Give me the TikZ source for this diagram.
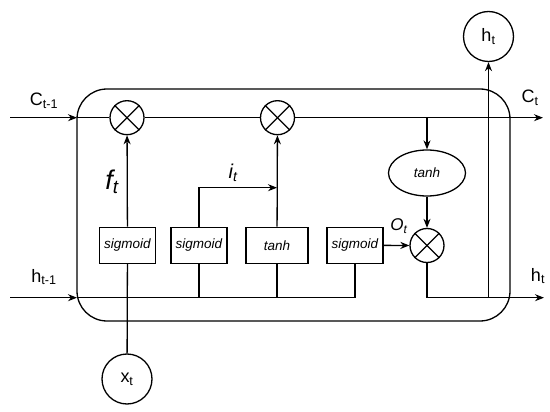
\documentclass[tikz,border=0pt]{standalone}
\usepackage{fontspec}
\setmainfont{Liberation Sans}
\usetikzlibrary{arrows.meta,shapes,positioning}

\tikzset{
  gatebox/.style={draw, minimum width=56pt, minimum height=36pt, inner sep=0pt, font=\fontsize{13.5}{13.5}\selectfont\itshape},
  mult/.style={draw, circle, minimum size=34pt, inner sep=0pt},
  iobox/.style={draw, circle, minimum size=50pt, inner sep=0pt, font=\fontsize{18}{18}\selectfont},
  lbl/.style={inner sep=0pt, font=\fontsize{18}{18}\selectfont},
}

\begin{document}
\begin{tikzpicture}[x=1pt, y=-1pt, line width=1.3pt, >={Stealth[length=9pt,width=7pt]}]
\useasboundingbox (0,0) rectangle (550,412);

% cell
\draw [rounded corners=30pt] (77,89) rectangle (510,321);

% gates
\node [gatebox] (sf) at (127.5,245.3) {sigmoid};
\node [gatebox] (si) at (199,245.3) {sigmoid};
\node [gatebox, minimum width=62pt] (tc) at (277,245.3) {tanh};
\node [gatebox] (so) at (355,245.3) {sigmoid};

\node [mult] (m1) at (127,117.7) {};
\node [mult] (m2) at (277.5,117.7) {};
\node [mult] (mo) at (427,245.5) {};
\foreach \m in {m1,m2,mo} {
  \draw (\m.45) -- (\m.225);
  \draw (\m.135) -- (\m.315);
}
\node [draw, ellipse, minimum width=77pt, minimum height=46pt, inner sep=0pt,
  font=\fontsize{13.5}{13.5}\selectfont\itshape] (th) at (427,173) {tanh};

\node [iobox] (xt) at (127,379) {x\textsubscript{t}};
\node [iobox] (ht) at (488.5,36.5) {h\textsubscript{t}};

\coordinate (cin) at (10,117.7);
\coordinate (cl) at (77,117.7);
\coordinate (cout) at (543,117.7);
\coordinate (tap) at (427,117.7);
\coordinate (hin) at (10,297.7);
\coordinate (hl) at (77,297.7);
\coordinate (hout) at (544,297.7);
\coordinate (ij) at (277,187.7);

% cell state
\draw [->] (cin) -- (cl);
\draw (cl) -- (m1);
\draw (m1) -- (m2);
\draw [->] (m2) -- (cout);
\draw [->] (tap) -- (th);
\draw [->] (th) -- (mo);

% gates to products
\draw [->] (sf) -- (m1);
\draw [->] (tc) -- (m2);
\draw [->] (si.north) |- (ij);
\draw [->] (so) -- (mo);

% hidden state in
\draw [->] (hin) -- (hl);
\draw (hl) -| (so.south);
\draw (si.south) -- (si.south |- hl);
\draw (tc.south) -- (tc.south |- hl);
\draw (xt) -- (sf);

% hidden state out
\draw [->] (mo.south) |- (hout);
\draw [->] (ht.south |- hout) -- (ht);

\node [lbl] (lc0) at (44,101) {C\textsubscript{t-1}};
\node [lbl] (lc1) at (530,98) {C\textsubscript{t}};
\node [lbl] (lh0) at (44,277) {h\textsubscript{t-1}};
\node [lbl] (lh1) at (538,276) {h\textsubscript{t}};
\node [lbl, font=\fontsize{27}{27}\selectfont\itshape] (lf) at (112,182) {f\textsubscript{t}};
\node [lbl, font=\fontsize{20}{20}\selectfont\itshape] (li) at (233,173) {i\textsubscript{t}};
\node [lbl, font=\fontsize{17}{17}\selectfont\itshape] (lo) at (399,226) {O\textsubscript{t}};
\end{tikzpicture}
\end{document}
